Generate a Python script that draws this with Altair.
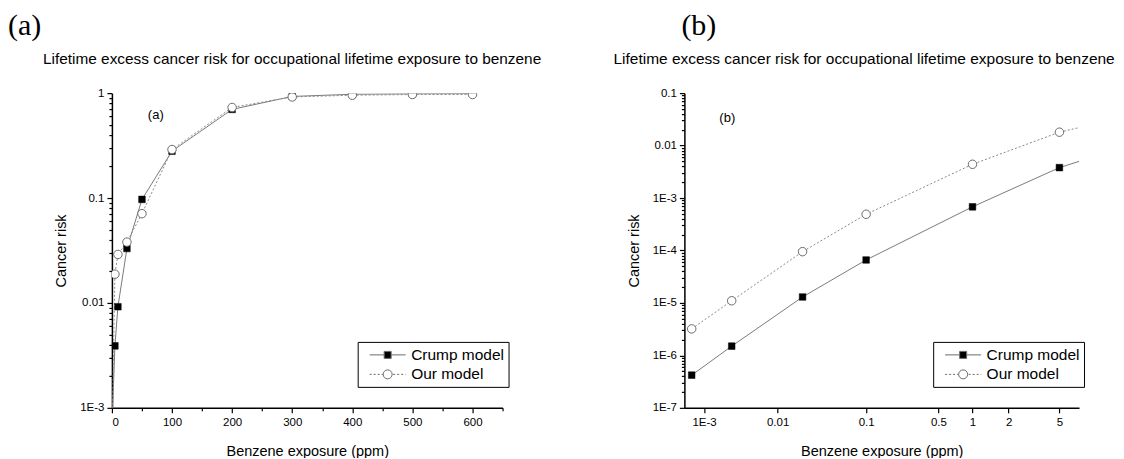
import altair as alt
import pandas as pd

MODELS = ["Crump model", "Our model"]
TITLE = "Lifetime excess cancer risk for occupational lifetime exposure to benzene"

# Panel (a): linear exposure axis, log risk axis
A_X = [1, 5, 10, 25, 50, 100, 200, 300, 400, 500, 600]
A_CRUMP = [0.0009, 0.0039, 0.0092, 0.033, 0.097, 0.28, 0.70, 0.93, 0.975, 0.985, 0.99]
A_OUR = [0.0009, 0.0188, 0.029, 0.038, 0.071, 0.29, 0.73, 0.92, 0.955, 0.97, 0.97]
A_MARKED = [True] * 11

# Panel (b): low-dose region
B_X = [0.00065, 0.0025, 0.02, 0.1, 1, 5, 7]
B_CRUMP = [4.2e-7, 1.5e-6, 1.3e-5, 6.6e-5, 6.8e-4, 3.8e-3, 5.0e-3]
B_OUR = [3.2e-6, 1.1e-5, 9.5e-5, 4.9e-4, 4.4e-3, 0.018, 0.022]
B_MARKED = [True, True, True, True, True, True, False]

A_XTICKS = list(range(0, 651, 50))
A_YTICKS = [float(f"{k}e{e}") for e in range(-3, 0) for k in range(1, 10)] + [1.0]
B_XTICKS = [0.001, 0.01, 0.1, 0.5, 1, 2, 5]
B_YTICKS = [float(f"{k}e{e}") for e in range(-7, -1) for k in range(1, 10)] + [0.1]

FONT = "Liberation Sans"
SERIF = "Liberation Serif"
CRUMP_LINE = "#7a7a7a"
OUR_LINE = "#8a8a8a"
CIRCLE_STROKE = "#6a6a6a"
LEG_STROKE = "#6a6a6a"


def long_df(xs, crump, our, marked):
    rows = []
    for m, ys in zip(MODELS, [crump, our]):
        for x, y, mk in zip(xs, ys, marked):
            rows.append({"x": x, "y": y, "model": m, "marked": mk})
    return pd.DataFrame(rows)


# legend symbol paths (line sample + marker), built in px relative to symbol centre
SYM = 18.0           # legend symbol box (px)
U = SYM / 2.0        # px per path unit
def _u(px):
    return round(px / U, 4)

LX0, LX1 = -1.0, 35.0     # line sample extent (px)
MC = 17.0                 # marker centre (px)
SQ = 3.5                  # square half side (px)
RC = 4.5                  # circle radius (px)
PATH_C = (f"M{_u(LX0)},0H{_u(MC - SQ)}M{_u(MC + SQ)},0H{_u(LX1)}"
          f"M{_u(MC - SQ)},{_u(-SQ)}H{_u(MC + SQ)}V{_u(SQ)}H{_u(MC - SQ)}Z")


def dashes(a, b, d=2.0):
    out = []
    p = a
    while p < b - 1e-6:
        q = min(p + d, b)
        out.append(f"M{_u(p)},0H{_u(q)}")
        p = q + d
    return out


PATH_O = ("".join(dashes(LX0, MC - RC) + dashes(MC + RC + 1, LX1))
          + f"M{_u(MC + RC)},0A{_u(RC)},{_u(RC)} 0 1,1 {_u(MC - RC)},0"
          + f"A{_u(RC)},{_u(RC)} 0 1,1 {_u(MC + RC)},0Z")

LOG_MAJOR = "abs(log(datum.value)/LN10 - round(log(datum.value)/LN10)) < 0.01"
LOG_LABEL = (f"!({LOG_MAJOR}) ? '' : (datum.value >= 0.01 ? toString(datum.value) : "
             "'1E' + toString(round(log(datum.value)/LN10)))")


def text_layer(txt, x, y, font, size):
    return alt.Chart(pd.DataFrame({"t": [txt]})).mark_text(
        align="left", baseline="alphabetic", font=font, fontSize=size, color="black"
    ).encode(text="t:N", x=alt.value(x), y=alt.value(y))


def panel(df, xscale, yscale, xaxis, yaxis, ymin, w, big, big_x, small, small_xy,
          title_x, title_size, legend_xy):
    x = alt.X("x:Q", scale=xscale, axis=xaxis)
    y = alt.Y("y:Q", scale=yscale, axis=yaxis)
    base = alt.Chart(df)
    lc = base.transform_filter(f"datum.model == '{MODELS[0]}'").mark_line(
        color=CRUMP_LINE, strokeWidth=1, clip=True).encode(x=x, y=y, order="x:Q")
    lo = base.transform_filter(f"datum.model == '{MODELS[1]}'").mark_line(
        color=OUR_LINE, strokeWidth=1, strokeDash=[2, 2], clip=True).encode(x=x, y=y, order="x:Q")
    pc = base.transform_filter(
        f"datum.model == '{MODELS[0]}' && datum.marked && datum.y >= {ymin}").mark_point(
        shape="square", filled=True, fill="black", stroke="black", strokeWidth=0.5,
        size=44, opacity=1, clip=True).encode(x=x, y=y)
    po = base.transform_filter(
        f"datum.model == '{MODELS[1]}' && datum.marked && datum.y >= {ymin}").mark_point(
        shape="circle", filled=True, fill="white", stroke=CIRCLE_STROKE, strokeWidth=1,
        size=72, opacity=1, clip=True).encode(x=x, y=y)
    leg_props = dict(
        title=None, orient="none", legendX=legend_xy[0], legendY=legend_xy[1],
        strokeColor="black", fillColor="white", padding=3.5,
        labelFont=FONT, labelFontSize=15.5, labelColor="black", labelOffset=31,
        symbolSize=SYM * SYM, symbolStrokeWidth=1, symbolStrokeColor=LEG_STROKE, rowPadding=1.5,
    )
    leg = alt.Chart(pd.DataFrame({"model": MODELS})).transform_filter("false").mark_point(
        filled=True, opacity=1, strokeWidth=1).encode(
        shape=alt.Shape("model:N", scale=alt.Scale(domain=MODELS, range=[PATH_C, PATH_O]),
                        legend=alt.Legend(**leg_props)),
        fill=alt.Fill("model:N", scale=alt.Scale(domain=MODELS, range=["black", "white"]),
                      legend=alt.Legend(**leg_props)),
        stroke=alt.Stroke("model:N", scale=alt.Scale(domain=MODELS, range=[LEG_STROKE, LEG_STROKE]),
                          legend=alt.Legend(**leg_props)),
    )
    t_big = text_layer(big, big_x, -58, SERIF, 30)
    t_title = text_layer(TITLE, title_x, -29, FONT, title_size)
    t_small = text_layer(small, small_xy[0], small_xy[1], FONT, 13)
    return alt.layer(lc, lo, pc, po, leg, t_big, t_title, t_small).properties(width=w, height=315)


def yaxis(values):
    return alt.Axis(values=values, labelExpr=LOG_LABEL, title="Cancer risk",
                    tickSize={"condition": {"test": LOG_MAJOR, "value": 5}, "value": 3},
                    titlePadding=11, labelPadding=3)


panel_a = panel(
    long_df(A_X, A_CRUMP, A_OUR, A_MARKED),
    alt.Scale(domain=[0, 650], nice=False, zero=False),
    alt.Scale(type="log", domain=[1e-3, 1], nice=False),
    alt.Axis(values=A_XTICKS, labelExpr="datum.value % 100 == 0 ? toString(datum.value) : ''",
             tickSize={"condition": {"test": "datum.value % 100 == 0", "value": 5}, "value": 3},
             title="Benzene exposure (ppm)", labelPadding=4, titlePadding=16),
    yaxis(A_YTICKS), 1e-3, 391, "(a)", -104, "(a)", (36, 26), -69, 15.4, (246, 249),
)

panel_b = panel(
    long_df(B_X, B_CRUMP, B_OUR, B_MARKED),
    alt.Scale(type="pow", exponent=0.08, domain=[0.0005, 7], nice=False, zero=False),
    alt.Scale(type="log", domain=[1e-7, 0.1], nice=False),
    alt.Axis(values=B_XTICKS, labelExpr="datum.value == 0.001 ? '1E-3' : toString(datum.value)",
             tickSize=5, title="Benzene exposure (ppm)", labelPadding=4, titlePadding=16),
    yaxis(B_YTICKS), 1e-7, 395, "(b)", -3, "(b)", (35, 29), -71, 15.5, (249, 249),
)

chart = alt.hconcat(panel_a, panel_b, spacing=182, bounds="flush").resolve_scale(
    shape="independent", fill="independent", stroke="independent"
).resolve_legend(
    shape="independent", fill="independent", stroke="independent"
).properties(
    padding={"left": 0, "top": 3, "right": 0, "bottom": 0}, background="white"
).configure_view(stroke=None).configure_axis(
    domainColor="black", domainWidth=1.5, tickColor="black", tickWidth=1.2, grid=False,
    labelFont=FONT, labelFontSize=11.5, labelColor="black",
    titleFont=FONT, titleFontSize=14.5, titleFontWeight="normal", titleColor="black",
)

chart.save("out.html", embed_options={"renderer": "svg", "actions": False})
